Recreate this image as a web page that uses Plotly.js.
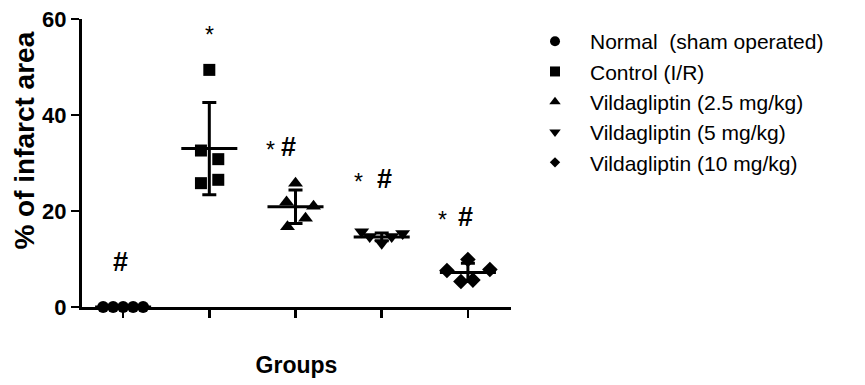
<!DOCTYPE html>
<html>
<head>
<meta charset="utf-8">
<script src="https://cdn.plot.ly/plotly-3.0.1.min.js"></script>
<style>html,body{margin:0;padding:0;background:#fff;}#chart{width:865px;height:385px;}</style>
</head>
<body>
<div id="chart"></div>
<script>
// ---- data ----
const groups = ["Normal\u00a0 (sham operated)", "Control (I/R)", "Vildagliptin (2.5 mg/kg)", "Vildagliptin (5 mg/kg)", "Vildagliptin (10 mg/kg)"];
const normalValues = [0, 0, 0, 0, 0];
const controlValues = [49.4, 32.6, 30.8, 25.8, 26.5];
const vilda25Values = [25.8, 21.9, 21.0, 18.5, 16.7];
const vilda5Values = [15.7, 14.7, 13.3, 14.7, 15.3];
const vilda10Values = [7.6, 5.3, 9.9, 5.6, 7.8];
const groupMeans = [0, 33.0, 20.9, 14.6, 7.2];
const groupSDs = [0, 9.6, 3.5, 0.8, 1.9];
const significance = [["#"], ["*"], ["*", "#"], ["*", "#"], ["*", "#"]];
const yTickVals = [0, 20, 40, 60];
const yTitle = "% of infarct area";
const xTitle = "Groups";

// ---- layout helpers (scatter jitter offsets, in category units) ----
const jitter = [
  [-0.232, -0.116, 0, 0.116, 0.232],
  [0, -0.097, 0.104, -0.097, 0.104],
  [0, -0.104, 0.209, 0.116, -0.093],
  [-0.232, -0.139, 0, 0.116, 0.243],
  [-0.243, -0.081, 0, 0.058, 0.255]
];
const allValues = [normalValues, controlValues, vilda25Values, vilda5Values, vilda10Values];
const symbols = ["circle", "square", "triangle-up", "triangle-down", "diamond"];
const sizes = [12, 12, 13, 13, 12];
const legendSizes = [10, 10, 10, 10, 8];

const traces = [];
// mean + SD
traces.push({
  type: "scatter", mode: "markers",
  x: groups.map((g, i) => i), y: groupMeans,
  marker: {size: 1, color: "rgba(0,0,0,0)"},
  error_y: {type: "data", array: groupSDs, visible: true, color: "#000", thickness: 3, width: 7},
  error_x: {type: "constant", value: 0.325, visible: true, color: "#000", thickness: 3, width: 0},
  showlegend: false, hoverinfo: "skip", cliponaxis: false
});
allValues.forEach((vals, i) => {
  traces.push({
    type: "scatter", mode: "markers", name: groups[i],
    x: vals.map((v, j) => i + jitter[i][j]), y: vals,
    marker: {symbol: symbols[i], size: sizes[i], color: "#000"},
    cliponaxis: false, showlegend: false
  });
});
// legend entries (smaller symbols, as in the original key)
groups.forEach((g, i) => {
  traces.push({
    type: "scatter", mode: "markers", name: g,
    x: [null], y: [null],
    marker: {symbol: symbols[i], size: legendSizes[i], color: "#000"},
    showlegend: true
  });
});

const annPos = [
  [[-0.03, 9.4]],
  [[1.0, 57.2]],
  [[1.71, 33.4], [1.92, 33.4]],
  [[2.73, 26.7], [3.03, 26.7]],
  [[3.71, 18.7], [3.97, 18.7]]
];
const annotations = [];
significance.forEach((marks, i) => {
  marks.forEach((m, k) => {
    const p = annPos[i][k];
    annotations.push({
      x: p[0], y: p[1], xref: "x", yref: "y", text: m, showarrow: false,
      yanchor: "middle", xanchor: "center",
      font: m === "#" ? {family: "Liberation Sans, Arial, sans-serif", size: 27, color: "#000", weight: "bold"}
                      : {family: "Liberation Sans, Arial, sans-serif", size: 23, color: "#000"},
      yshift: m === "*" ? -3 : 0
    });
  });
});
// y-axis title (placed as in the original, above the axis centre)
annotations.push({
  xref: "paper", yref: "paper", x: -0.135, y: 0.578, xanchor: "center", yanchor: "middle",
  text: "<b>" + yTitle + "</b>", textangle: -90, showarrow: false,
  font: {family: "Liberation Sans, Arial, sans-serif", size: 28, color: "#000"}
});

const layout = {
  width: 865, height: 385,
  margin: {l: 82, r: 354, t: 19, b: 78},
  paper_bgcolor: "#fff", plot_bgcolor: "#fff",
  font: {family: "Liberation Sans, Arial, sans-serif", color: "#000"},
  xaxis: {
    range: [-0.477, 4.5], showgrid: false, zeroline: false,
    showline: true, linecolor: "#000", linewidth: 3,
    ticks: "outside", ticklen: 8, tickwidth: 2.5, tickcolor: "#000",
    tickvals: [0, 1, 2, 3, 4], showticklabels: false,
    title: {text: "<b>" + xTitle + "</b>", font: {size: 23, color: "#000"}, standoff: 40}
  },
  yaxis: {
    range: [0, 60], showgrid: false, zeroline: false,
    showline: true, linecolor: "#000", linewidth: 3,
    ticks: "outside", ticklen: 8, tickwidth: 2.5, tickcolor: "#000",
    tickvals: yTickVals, ticktext: yTickVals.map(v => "<b>" + v + "</b>"),
    tickfont: {size: 22, color: "#000"}
  },
  legend: {
    x: 1.021, y: 0.993, xanchor: "left", yanchor: "top",
    font: {size: 21, color: "#000"}, itemwidth: 60, bgcolor: "rgba(0,0,0,0)"
  },
  annotations: annotations,
  showlegend: true
};

Plotly.newPlot("chart", traces, layout, {staticPlot: true, displayModeBar: false});
</script>
</body>
</html>
